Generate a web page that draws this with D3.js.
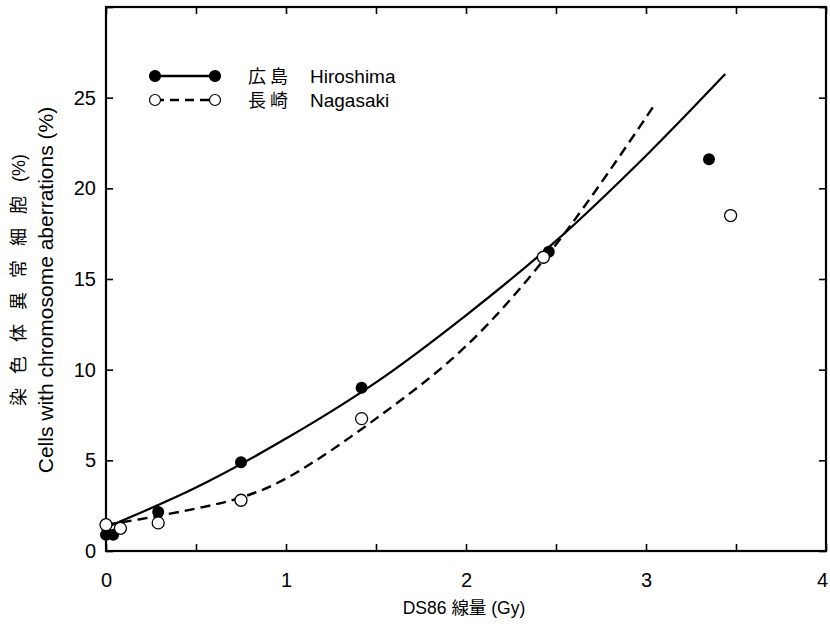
<!DOCTYPE html>
<html>
<head>
<meta charset="utf-8">
<script src="https://cdn.jsdelivr.net/npm/d3@7"></script>
<style>
  body { margin: 0; background: #fff; }
  text { font-family: "Liberation Sans", Arial, sans-serif; fill: #000; }
  .jp { font-family: "Noto Sans CJK JP", sans-serif; }
</style>
</head>
<body>
<div id="graf"></div>
<script>
// datos
hiroDosis = [0, 0.04, 0.29, 0.75, 1.42, 2.46, 3.35]
hiroPct   = [0.9, 0.9, 2.15, 4.9, 9.0, 16.5, 21.6]
nagaDosis = [0, 0.08, 0.29, 0.75, 1.42, 2.43, 3.47]
nagaPct   = [1.45, 1.25, 1.55, 2.8, 7.3, 16.2, 18.5]

// curvas ajustadas (leidas punto a punto)
hiroCurvaX = [0, 0.5, 1, 1.5, 2, 2.5, 3, 3.44]
hiroCurvaY = [1.3, 3.5, 6.2, 9.3, 13.0, 17.1, 21.8, 26.3]
nagaCurvaX = [0, 0.3, 0.75, 1, 1.5, 2, 2.5, 3.04]
nagaCurvaY = [1.45, 1.95, 2.95, 4.0, 7.3, 11.3, 16.9, 24.5]

xTicks = [0, 0.5, 1, 1.5, 2, 2.5, 3, 3.5, 4]
yTicks = [0, 5, 10, 15, 20, 25, 30]

ancho_total = 830
alto_total = 624
margins = { top: 7, left: 106, right: 4, bottom: 73 }
ancho = ancho_total - margins.left - margins.right
alto  = alto_total - margins.top - margins.bottom

svg = d3.select('#graf').append('svg')
        .attr('width', ancho_total)
        .attr('height', alto_total)

g = svg.append('g')
       .attr('transform', `translate(${ margins.left }, ${ margins.top })`)

x = d3.scaleLinear().domain([0, 4]).range([0, ancho])
y = d3.scaleLinear().domain([0, 30]).range([alto, 0])

// ejes con ticks hacia adentro
fmtX = d => Number.isInteger(d) ? d : ''
fmtY = d => d < 30 ? d : ''

xAxis = g.append('g').attr('transform', `translate(0, ${ alto })`)
  .call(d3.axisBottom(x).tickValues(xTicks).tickSizeInner(-7).tickSizeOuter(0).tickPadding(22).tickFormat(fmtX))
xTop = g.append('g')
  .call(d3.axisTop(x).tickValues(xTicks).tickSizeInner(-7).tickSizeOuter(0).tickFormat(''))
yAxis = g.append('g')
  .call(d3.axisLeft(y).tickValues(yTicks).tickSizeInner(-7).tickSizeOuter(0).tickPadding(10).tickFormat(fmtY))
yRight = g.append('g').attr('transform', `translate(${ ancho }, 0)`)
  .call(d3.axisRight(y).tickValues(yTicks).tickSizeInner(-7).tickSizeOuter(0).tickFormat(''))

g.selectAll('.domain').remove()
g.selectAll('.tick line').attr('stroke', '#000').attr('stroke-width', 1.6)
g.selectAll('.tick text').style('font-size', '20px')
// el "4" del borde derecho se corre un poco para que no se corte
xAxis.selectAll('.tick text').filter(d => d === 4).attr('dx', '-4')

g.append('rect')
  .attr('width', ancho).attr('height', alto)
  .attr('fill', 'none').attr('stroke', '#000').attr('stroke-width', 2.2)

// curvas
linea = d3.line()
  .x(d => x(d[0]))
  .y(d => y(d[1]))
  .curve(d3.curveCatmullRom)

g.append('path')
  .datum(hiroCurvaX.map((d, i) => [d, hiroCurvaY[i]]))
  .attr('d', linea)
  .attr('fill', 'none').attr('stroke', '#000').attr('stroke-width', 2.2)

g.append('path')
  .datum(nagaCurvaX.map((d, i) => [d, nagaCurvaY[i]]))
  .attr('d', linea)
  .attr('fill', 'none').attr('stroke', '#000').attr('stroke-width', 2.4)
  .attr('stroke-dasharray', '10,6')

// puntos
g.selectAll('.hiro')
  .data(hiroDosis.map((d, i) => [d, hiroPct[i]]))
  .enter().append('circle')
  .attr('cx', d => x(d[0])).attr('cy', d => y(d[1]))
  .attr('r', 6).attr('fill', '#000')

g.selectAll('.naga')
  .data(nagaDosis.map((d, i) => [d, nagaPct[i]]))
  .enter().append('circle')
  .attr('cx', d => x(d[0])).attr('cy', d => y(d[1]))
  .attr('r', 6).attr('fill', '#fff').attr('stroke', '#000').attr('stroke-width', 1.3)

// leyenda
leyenda = [
  { jp: '広 島', en: 'Hiroshima', dash: null, fill: '#000' },
  { jp: '長 崎', en: 'Nagasaki', dash: '9,6', fill: '#fff' }
]
ley = svg.append('g').attr('transform', 'translate(155, 76)')
leyenda.forEach((d, i) => {
  row = ley.append('g').attr('transform', `translate(0, ${ i * 24 })`)
  row.append('line').attr('x1', 0).attr('x2', 60)
     .attr('stroke', '#000').attr('stroke-width', 2.4)
     .attr('stroke-dasharray', d.dash)
  ;[0, 60].forEach(cx => row.append('circle').attr('cx', cx).attr('r', 5.5)
     .attr('fill', d.fill).attr('stroke', '#000').attr('stroke-width', 1.2))
  row.append('text').attr('class', 'jp').attr('x', 93).attr('y', 7)
     .style('font-size', '18px').text(d.jp)
  row.append('text').attr('x', 155).attr('y', 7)
     .style('font-size', '19px').text(d.en)
})

// titulos de ejes
svg.append('text')
  .attr('x', margins.left + x(2) - 2).attr('y', 614)
  .attr('text-anchor', 'middle').style('font-size', '17.5px')
  .html('DS86 <tspan class="jp">線量</tspan> (Gy)')

svg.append('text')
  .attr('transform', 'translate(25, 280) rotate(-90)')
  .attr('text-anchor', 'middle').style('font-size', '18px')
  .html('<tspan class="jp" letter-spacing="14">染色体異常細胞</tspan>(%)')

svg.append('text')
  .attr('transform', 'translate(53, 290) rotate(-90)')
  .attr('text-anchor', 'middle').style('font-size', '21px')
  .text('Cells with chromosome aberrations (%)')
</script>
</body>
</html>
